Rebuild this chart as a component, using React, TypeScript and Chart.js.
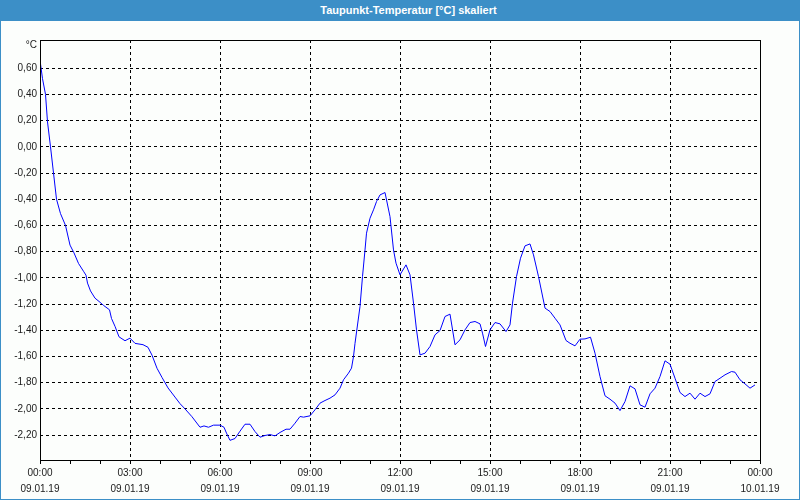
import React, { useEffect, useRef } from 'react';
import { Chart, registerables } from 'chart.js';

Chart.register(...registerables);

const chartTitle = 'Taupunkt-Temperatur [°C] skaliert';
const unitLabel = '°C';

// time of day in minutes since 09.01.19 00:00
const minutes = [
  0, 5, 11, 15, 21, 27, 33, 41, 51, 60, 68, 77, 87, 92, 95, 101, 110, 118, 127, 139,
  143, 150, 158, 170, 180, 190, 206, 216, 224, 234, 244, 256, 270, 280, 290, 304, 320, 328, 337, 347,
  360, 368, 373, 380, 390, 400, 410, 420, 430, 440, 450, 460, 470, 480, 492, 500, 510, 520, 527, 540,
  550, 560, 570, 580, 590, 600, 607, 617, 623, 627, 630, 640, 645, 650, 653, 660, 667, 673, 680, 690,
  700, 707, 712, 720, 732, 740, 747, 753, 760, 770, 780, 790, 800, 810, 820, 830, 840, 850, 860, 870,
  880, 885, 891, 900, 910, 920, 932, 940, 945, 953, 961, 970, 980, 987, 997, 1010, 1020, 1030, 1040, 1052,
  1060, 1070, 1080, 1090, 1101, 1110, 1120, 1130, 1140, 1150, 1160, 1170, 1180, 1190, 1200, 1210, 1220, 1230, 1240, 1250,
  1260, 1270, 1280, 1290, 1300, 1310, 1320, 1330, 1340, 1350, 1360, 1370, 1383, 1390, 1400, 1410, 1420, 1430,
];

// dew point temperature, °C
const values = [
  0.66, 0.52, 0.40, 0.19, 0.00, -0.20, -0.40, -0.51, -0.60, -0.75, -0.81, -0.89, -0.95, -0.98, -1.04, -1.10, -1.155, -1.18, -1.21, -1.244,
  -1.31, -1.37, -1.45, -1.48, -1.46, -1.50, -1.51, -1.53, -1.59, -1.69, -1.76, -1.84, -1.91, -1.96, -2.00, -2.06, -2.14, -2.13, -2.14, -2.124,
  -2.124, -2.14, -2.185, -2.24, -2.226, -2.17, -2.117, -2.117, -2.173, -2.216, -2.203, -2.196, -2.206, -2.18, -2.155, -2.155, -2.109, -2.058, -2.063, -2.053,
  -2.007, -1.956, -1.936, -1.918, -1.893, -1.842, -1.778, -1.727, -1.689, -1.60, -1.50, -1.219, -0.99, -0.787, -0.659, -0.545, -0.481, -0.418, -0.367, -0.349,
  -0.533, -0.787, -0.888, -0.977, -0.901, -0.977, -1.193, -1.397, -1.588, -1.575, -1.524, -1.435, -1.402, -1.295, -1.277, -1.511, -1.473, -1.397, -1.341, -1.333,
  -1.351, -1.422, -1.524, -1.397, -1.341, -1.351, -1.41, -1.359, -1.193, -0.99, -0.85, -0.756, -0.741, -0.825, -0.99, -1.231, -1.257, -1.308, -1.359, -1.478,
  -1.499, -1.519, -1.468, -1.466, -1.453, -1.575, -1.753, -1.900, -1.926, -1.956, -2.013, -1.944, -1.824, -1.847, -1.969, -1.987, -1.885, -1.842, -1.753, -1.633,
  -1.659, -1.766, -1.875, -1.906, -1.880, -1.926, -1.880, -1.906, -1.885, -1.791, -1.766, -1.740, -1.715, -1.720, -1.778, -1.809, -1.842, -1.817,
];

const yTicks = [-2.2, -2.0, -1.8, -1.6, -1.4, -1.2, -1.0, -0.8, -0.6, -0.4, -0.2, 0.0, 0.2, 0.4, 0.6];
const yMin = -2.39;
const yMax = 0.815;

const xMin = 0;
const xMax = 1440;
const xMinorStep = 60;
const xLabelMinutes = [0, 180, 360, 540, 720, 900, 1080, 1260, 1440];
const xTimeLabels = ['00:00', '03:00', '06:00', '09:00', '12:00', '15:00', '18:00', '21:00', '00:00'];
const xDateLabels = ['09.01.19', '09.01.19', '09.01.19', '09.01.19', '09.01.19', '09.01.19', '09.01.19', '09.01.19', '10.01.19'];

const FONT = '"Liberation Sans", Arial, sans-serif';
const TEXT_COLOR = '#1a1a1a';

const framePlugin = {
  id: 'frameAndUnit',
  afterDraw(chart: any) {
    const { ctx, chartArea } = chart;
    ctx.save();
    ctx.strokeStyle = '#000';
    ctx.lineWidth = 1;
    ctx.setLineDash([]);
    ctx.strokeRect(
      Math.round(chartArea.left) + 0.5,
      Math.round(chartArea.top) + 0.5,
      Math.round(chartArea.right - chartArea.left),
      Math.round(chartArea.bottom - chartArea.top)
    );
    ctx.fillStyle = TEXT_COLOR;
    ctx.font = `10px ${FONT}`;
    ctx.textAlign = 'right';
    ctx.textBaseline = 'middle';
    ctx.fillText(unitLabel, chartArea.left - 3, chartArea.top + 5);
    ctx.restore();
  },
};

export default function App() {
  const canvasRef = useRef<HTMLCanvasElement | null>(null);

  useEffect(() => {
    if (!canvasRef.current) return;
    const data = minutes.map((m, i) => ({ x: m, y: values[i] }));
    const chart = new Chart(canvasRef.current, {
      type: 'line',
      data: {
        datasets: [
          {
            data,
            borderColor: '#0000ff',
            borderWidth: 1,
            pointRadius: 0,
            tension: 0,
            fill: false,
          },
        ],
      },
      options: {
        animation: false,
        responsive: false,
        events: [],
        layout: { padding: { top: 40, left: 0, right: 40, bottom: 0 } },
        plugins: {
          legend: { display: false },
          title: { display: false },
          tooltip: { enabled: false },
        },
        scales: {
          x: {
            type: 'linear',
            min: xMin,
            max: xMax,
            afterBuildTicks: (scale: any) => {
              const t = [];
              for (let v = xMin; v <= xMax; v += xMinorStep) t.push({ value: v });
              scale.ticks = t;
            },
            afterFit: (scale: any) => {
              scale.height = 40;
            },
            border: { display: false, dash: [3, 3] },
            grid: {
              color: (ctx: any) => {
                const v = ctx.tick ? ctx.tick.value : -1;
                return xLabelMinutes.includes(v) && v !== xMin && v !== xMax ? '#000' : 'rgba(0,0,0,0)';
              },
              lineWidth: 1,
              tickColor: '#000',
              tickLength: 4,
              drawTicks: true,
            },
            ticks: {
              autoSkip: false,
              maxRotation: 0,
              padding: 1,
              color: TEXT_COLOR,
              font: { family: FONT, size: 10, lineHeight: '16px' },
              callback: (value: any) => {
                const i = xLabelMinutes.indexOf(Number(value));
                return i >= 0 ? [xTimeLabels[i], xDateLabels[i]] : '';
              },
            },
          },
          y: {
            type: 'linear',
            min: yMin,
            max: yMax,
            afterBuildTicks: (scale: any) => {
              scale.ticks = yTicks.map((v) => ({ value: v }));
            },
            afterFit: (scale: any) => {
              scale.width = 40;
            },
            border: { display: false, dash: [3, 3] },
            grid: {
              color: '#000',
              lineWidth: 1,
              drawTicks: false,
            },
            ticks: {
              padding: 3,
              color: TEXT_COLOR,
              font: { family: FONT, size: 10 },
              callback: (value: any) => Number(value).toFixed(2).replace('.', ','),
            },
          },
        },
      },
      plugins: [framePlugin],
    });
    return () => chart.destroy();
  }, []);

  return (
    <div
      style={{
        position: 'fixed',
        left: 0,
        top: 0,
        width: 800,
        height: 500,
        background: '#3c8fc7',
        overflow: 'hidden',
      }}
    >
      <div
        style={{
          position: 'absolute',
          left: 0,
          top: 0,
          width: 800,
          height: 21,
          lineHeight: '20px',
          textAlign: 'center',
          color: '#ffffff',
          fontFamily: FONT,
          fontWeight: 'bold',
          fontSize: 11,
          paddingLeft: 17,
          boxSizing: 'border-box',
        }}
      >
        {chartTitle}
      </div>
      <div
        style={{
          position: 'absolute',
          left: 1,
          top: 21,
          width: 798,
          height: 478,
          background: '#fcfefc',
        }}
      />
      <canvas
        ref={canvasRef}
        width={800}
        height={500}
        style={{ position: 'absolute', left: 0, top: 0, width: 800, height: 500 }}
      />
    </div>
  );
}
